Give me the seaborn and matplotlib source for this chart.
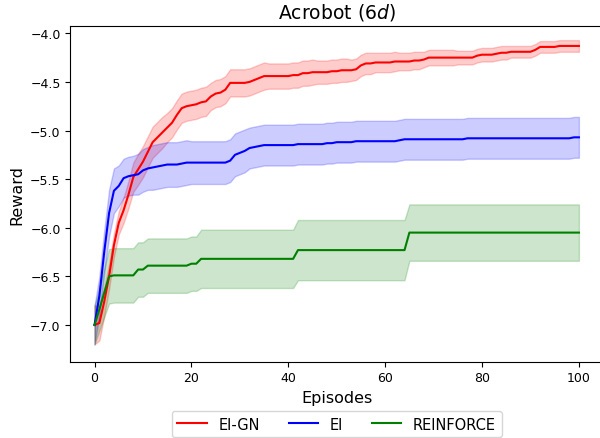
import matplotlib
matplotlib.use("Agg")
import matplotlib.pyplot as plt
import seaborn as sns
import pandas as pd
import numpy as np

episodes = list(range(101))
series_names = ["EI-GN", "EI", "REINFORCE"]
series_colors = ["red", "blue", "green"]

ei_gn_mean = [-7.00, -6.98, -6.76, -6.50, -6.18, -5.95, -5.82, -5.66, -5.48, -5.40,
              -5.32, -5.22, -5.12, -5.07, -5.02, -4.97, -4.92, -4.84, -4.77, -4.75,
              -4.74, -4.73, -4.71, -4.70, -4.65, -4.62, -4.61, -4.58, -4.51, -4.51,
              -4.51, -4.51, -4.50, -4.48, -4.46, -4.44, -4.44, -4.44, -4.44, -4.44,
              -4.44, -4.43, -4.43, -4.41, -4.41, -4.40, -4.40, -4.40, -4.40, -4.39,
              -4.39, -4.38, -4.38, -4.38, -4.37, -4.33, -4.31, -4.31, -4.30, -4.30,
              -4.30, -4.30, -4.29, -4.29, -4.29, -4.29, -4.28, -4.28, -4.27, -4.25,
              -4.25, -4.25, -4.25, -4.25, -4.25, -4.25, -4.25, -4.25, -4.25, -4.23,
              -4.22, -4.22, -4.22, -4.21, -4.20, -4.20, -4.19, -4.19, -4.19, -4.19,
              -4.19, -4.17, -4.14, -4.14, -4.14, -4.14, -4.13, -4.13, -4.13, -4.13,
              -4.13]
ei_gn_std = [0.20, 0.18, 0.15, 0.13, 0.12, 0.12, 0.13, 0.14, 0.15, 0.16,
             0.16, 0.16, 0.16, 0.16, 0.16, 0.15, 0.15, 0.15, 0.15, 0.15,
             0.15, 0.15, 0.15, 0.15, 0.14, 0.14, 0.14, 0.14, 0.14, 0.14,
             0.14, 0.14, 0.14, 0.14, 0.14, 0.14, 0.13, 0.13, 0.13, 0.13,
             0.13, 0.13, 0.13, 0.13, 0.13, 0.13, 0.12, 0.12, 0.12, 0.12,
             0.12, 0.12, 0.12, 0.11, 0.11, 0.11, 0.11, 0.11, 0.10, 0.10,
             0.10, 0.10, 0.10, 0.09, 0.09, 0.09, 0.09, 0.09, 0.08, 0.08,
             0.08, 0.08, 0.08, 0.08, 0.08, 0.07, 0.07, 0.07, 0.07, 0.07,
             0.07, 0.07, 0.07, 0.07, 0.07, 0.07, 0.06, 0.06, 0.06, 0.06,
             0.06, 0.06, 0.06, 0.06, 0.06, 0.06, 0.06, 0.06, 0.06, 0.06,
             0.06]

ei_mean = [-7.00, -6.70, -6.25, -5.85, -5.62, -5.57, -5.49, -5.47, -5.46, -5.45,
           -5.41, -5.39, -5.38, -5.37, -5.36, -5.35, -5.35, -5.35, -5.34, -5.33,
           -5.33, -5.33, -5.33, -5.33, -5.33, -5.33, -5.33, -5.33, -5.31, -5.25,
           -5.23, -5.21, -5.18, -5.17, -5.16, -5.15, -5.15, -5.15, -5.15, -5.15,
           -5.15, -5.15, -5.14, -5.14, -5.14, -5.14, -5.14, -5.14, -5.13, -5.13,
           -5.12, -5.12, -5.12, -5.12, -5.11, -5.11, -5.11, -5.11, -5.11, -5.11,
           -5.11, -5.11, -5.11, -5.10, -5.09, -5.09, -5.09, -5.09, -5.09, -5.09,
           -5.09, -5.09, -5.09, -5.09, -5.09, -5.09, -5.09, -5.08, -5.08, -5.08,
           -5.08, -5.08, -5.08, -5.08, -5.08, -5.08, -5.08, -5.08, -5.08, -5.08,
           -5.08, -5.08, -5.08, -5.08, -5.08, -5.08, -5.08, -5.08, -5.08, -5.07,
           -5.07]
ei_std = [0.20, 0.20, 0.22, 0.24, 0.23, 0.21, 0.20, 0.20, 0.20, 0.21,
          0.22, 0.22, 0.23, 0.23, 0.23, 0.23, 0.23, 0.23, 0.23, 0.23,
          0.22, 0.22, 0.22, 0.22, 0.22, 0.22, 0.22, 0.22, 0.22, 0.22,
          0.22, 0.22, 0.21, 0.21, 0.21, 0.21, 0.21, 0.21, 0.21, 0.21,
          0.21, 0.21, 0.21, 0.21, 0.21, 0.21, 0.21, 0.21, 0.21, 0.21,
          0.21, 0.21, 0.21, 0.21, 0.21, 0.21, 0.21, 0.21, 0.21, 0.21,
          0.21, 0.21, 0.21, 0.21, 0.21, 0.21, 0.21, 0.21, 0.21, 0.21,
          0.21, 0.21, 0.21, 0.21, 0.21, 0.21, 0.21, 0.21, 0.21, 0.21,
          0.21, 0.21, 0.21, 0.21, 0.21, 0.21, 0.21, 0.21, 0.21, 0.21,
          0.21, 0.21, 0.21, 0.21, 0.21, 0.21, 0.21, 0.21, 0.21, 0.21,
          0.21]

reinforce_mean = [-7.00, -6.84, -6.67, -6.50, -6.49, -6.49, -6.49, -6.49, -6.49, -6.43,
                  -6.43, -6.39, -6.39, -6.39, -6.39, -6.39, -6.39, -6.39, -6.39, -6.39,
                  -6.37, -6.37, -6.32, -6.32, -6.32, -6.32, -6.32, -6.32, -6.32, -6.32,
                  -6.32, -6.32, -6.32, -6.32, -6.32, -6.32, -6.32, -6.32, -6.32, -6.32,
                  -6.32, -6.32, -6.23, -6.23, -6.23, -6.23, -6.23, -6.23, -6.23, -6.23,
                  -6.23, -6.23, -6.23, -6.23, -6.23, -6.23, -6.23, -6.23, -6.23, -6.23,
                  -6.23, -6.23, -6.23, -6.23, -6.23, -6.05, -6.05, -6.05, -6.05, -6.05,
                  -6.05, -6.05, -6.05, -6.05, -6.05, -6.05, -6.05, -6.05, -6.05, -6.05,
                  -6.05, -6.05, -6.05, -6.05, -6.05, -6.05, -6.05, -6.05, -6.05, -6.05,
                  -6.05, -6.05, -6.05, -6.05, -6.05, -6.05, -6.05, -6.05, -6.05, -6.05,
                  -6.05]
reinforce_std = [0.20, 0.22, 0.25, 0.28, 0.28, 0.28, 0.28, 0.28, 0.28, 0.28,
                 0.28, 0.28, 0.28, 0.28, 0.28, 0.28, 0.28, 0.28, 0.28, 0.28,
                 0.28, 0.28, 0.30, 0.30, 0.30, 0.30, 0.30, 0.30, 0.30, 0.30,
                 0.30, 0.30, 0.30, 0.30, 0.30, 0.30, 0.30, 0.30, 0.30, 0.30,
                 0.30, 0.30, 0.31, 0.31, 0.31, 0.31, 0.31, 0.31, 0.31, 0.31,
                 0.31, 0.31, 0.31, 0.31, 0.31, 0.31, 0.31, 0.31, 0.31, 0.31,
                 0.31, 0.31, 0.31, 0.31, 0.31, 0.29, 0.29, 0.29, 0.29, 0.29,
                 0.29, 0.29, 0.29, 0.29, 0.29, 0.29, 0.29, 0.29, 0.29, 0.29,
                 0.29, 0.29, 0.29, 0.29, 0.29, 0.29, 0.29, 0.29, 0.29, 0.29,
                 0.29, 0.29, 0.29, 0.29, 0.29, 0.29, 0.29, 0.29, 0.29, 0.29,
                 0.29]

means = {"EI-GN": ei_gn_mean, "EI": ei_mean, "REINFORCE": reinforce_mean}
stds = {"EI-GN": ei_gn_std, "EI": ei_std, "REINFORCE": reinforce_std}

rows = []
for name in series_names:
    m = np.array(means[name])
    s = np.array(stds[name])
    for e, lo, hi in zip(episodes, m - s, m + s):
        rows.append((name, e, lo))
        rows.append((name, e, hi))
df = pd.DataFrame(rows, columns=["method", "Episodes", "Reward"])

fig = plt.figure(figsize=(6.0, 4.39), dpi=100)
ax = fig.add_axes([0.1172, 0.1738, 0.888, 0.764])

sns.lineplot(data=df, x="Episodes", y="Reward", hue="method",
             hue_order=series_names,
             palette=dict(zip(series_names, series_colors)),
             estimator="mean", errorbar=("pi", 100),
             err_kws={"alpha": 0.2, "linewidth": 1}, linewidth=1.5, ax=ax)

ax.set_xlim(-5, 105)
ax.set_ylim(-7.378, -3.928)
ax.set_xticks([0, 20, 40, 60, 80, 100])
ax.set_yticks([-7.0, -6.5, -6.0, -5.5, -5.0, -4.5, -4.0])
ax.tick_params(labelsize=9)
ax.spines["right"].set_visible(False)
ax.set_xlabel("Episodes", fontsize=11.5)
ax.set_ylabel("Reward", fontsize=11.5)
ax.set_title("Acrobot (6$d$)", fontsize=13.5)

sns.move_legend(ax, "upper center", bbox_to_anchor=(0.5, -0.146), ncol=3,
                title=None, frameon=True, borderaxespad=0, fontsize=10.5)

fig.savefig("out.png", dpi=100)
